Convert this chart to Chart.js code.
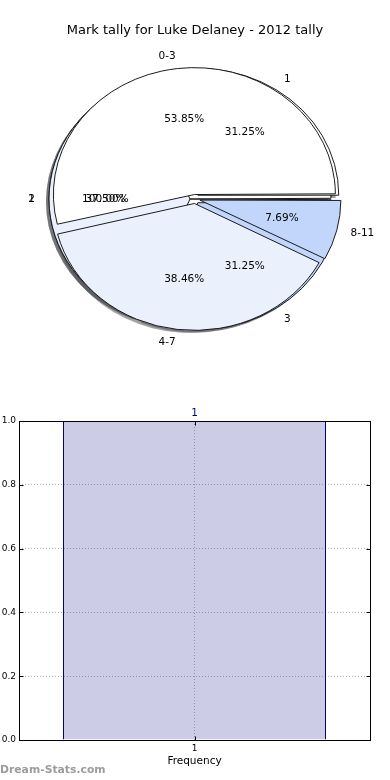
<!DOCTYPE html>
<html>
<head>
<meta charset="utf-8">
<script src="https://cdn.jsdelivr.net/npm/chart.js@4/dist/chart.umd.min.js"></script>
<style>
  html, body { margin: 0; padding: 0; background: #fff; }
  #wrap { position: relative; width: 390px; height: 780px; overflow: hidden; }
  canvas { position: absolute; left: 0; }
  #pie { top: 0; }
  #bar { top: 390px; }
  #wm { position: absolute; left: 0; top: 763px; font: bold 10.8px "DejaVu Sans", sans-serif; color: #9c9c9c; }
</style>
</head>
<body>
<div id="wrap">
  <canvas id="pie" width="390" height="390"></canvas>
  <canvas id="bar" width="390" height="390"></canvas>
  <div id="wm">Dream-Stats.com</div>
</div>
<script>
// ---------- data ----------
const chartTitle = 'Mark tally for Luke Delaney - 2012 tally';
const rangeLabels = ['0-3', '4-7', '8-11'];
const rangeCounts = [7, 5, 1];
const markLabels = ['1', '2', '3'];
const markCounts = [5, 6, 5];
const freqPieLabels = ['1'];
const freqPieCounts = [1];
const freqCategories = ['1'];
const freqValues = [1];
const yTickValues = [0, 0.2, 0.4, 0.6, 0.8, 1.0];
const xAxisTitle = 'Frequency';

// ---------- styles ----------
const FONT = '"DejaVu Sans", sans-serif';
Chart.defaults.font.family = FONT;
const sliceColors = ['#ffffff', '#eaf0fc', '#c2d6fc'];
const CX = 195, CY = 199, R = 141, K = 0.9, EXP = 5;

function rev(a) { return a.slice().reverse(); }

const pieLabelSets = [rangeLabels, markLabels, freqPieLabels];
const pieCountSets = [rangeCounts, markCounts, freqPieCounts];

const pieDatasets = pieCountSets.map((counts, di) => ({
  data: rev(counts),
  labelsList: rev(pieLabelSets[di]),
  backgroundColor: rev(sliceColors.slice(0, counts.length)),
  borderColor: '#111',
  borderWidth: 1,
  offset: EXP * 4,
  hoverOffset: 0,
  clip: false
}));

const pieGeom = {
  id: 'pieGeom',
  afterDatasetsUpdate(chart) {
    chart.getSortedVisibleDatasetMetas().forEach(meta => {
      meta.data.forEach(el => {
        const fix = 1 - Math.sin(Math.min(Math.PI, el.circumference || 0));
        el.x = CX; el.y = CY;
        el.innerRadius = 0;
        el.outerRadius = R - EXP * fix;
      });
    });
  },
  beforeDatasetsDraw(chart) {
    const ctx = chart.ctx;
    ctx.save();
    ctx.translate(CX, CY); ctx.scale(1, K); ctx.translate(-CX, -CY);
    // shadows (drawn under every wedge)
    chart.getSortedVisibleDatasetMetas().forEach(meta => {
      meta.data.forEach(el => {
        const mid = (el.startAngle + el.endAngle) / 2;
        const ox = CX + Math.cos(mid) * EXP - 3;
        const oy = CY + Math.sin(mid) * EXP + 3;
        ctx.beginPath();
        ctx.moveTo(ox, oy);
        ctx.arc(ox, oy, R, el.startAngle, el.endAngle);
        ctx.closePath();
        ctx.fillStyle = 'rgba(72,74,77,0.5)';
        ctx.fill();
      });
    });
  },
  afterDatasetsDraw(chart) {
    const ctx = chart.ctx;
    ctx.restore();
    ctx.save();
    ctx.font = '10.5px ' + FONT;
    ctx.fillStyle = '#000';
    ctx.textBaseline = 'middle';
    chart.data.datasets.forEach((ds, di) => {
      const meta = chart.getDatasetMeta(di);
      const total = ds.data.reduce((a, b) => a + b, 0);
      meta.data.forEach((el, i) => {
        const mid = (el.startAngle + el.endAngle) / 2;
        const c = Math.cos(mid), s = Math.sin(mid);
        const lr = EXP + 1.1 * R;
        ctx.textAlign = c > 0 ? 'left' : 'right';
        ctx.fillText(ds.labelsList[i], CX + c * lr, CY + K * s * lr);
        const pr = EXP + 0.6 * R;
        ctx.textAlign = 'center';
        ctx.fillText((ds.data[i] / total * 100).toFixed(2) + '%', CX + c * pr, CY + K * s * pr);
      });
    });
    ctx.restore();
  }
};

new Chart(document.getElementById('pie'), {
  type: 'pie',
  data: { labels: rev(rangeLabels), datasets: pieDatasets },
  options: {
    responsive: false,
    animation: false,
    events: [],
    rotation: 90,
    plugins: {
      legend: { display: false },
      tooltip: { enabled: false },
      title: {
        display: true,
        text: chartTitle,
        color: '#000',
        font: { family: FONT, size: 13, weight: 'normal' },
        padding: { top: 23, bottom: 10 }
      }
    }
  },
  plugins: [pieGeom]
});

// ---------- bar chart ----------
const barDeco = {
  id: 'barDeco',
  afterDatasetsDraw(chart) {
    const ctx = chart.ctx;
    ctx.save();
    ctx.font = '10.5px ' + FONT;
    ctx.fillStyle = '#000080';
    ctx.textAlign = 'center';
    ctx.textBaseline = 'middle';
    const meta = chart.getDatasetMeta(0);
    meta.data.forEach((el, i) => {
      ctx.fillText(String(chart.data.datasets[0].data[i]), el.x, el.y - 8);
    });
    ctx.restore();
  },
  afterDraw(chart) {
    const ctx = chart.ctx;
    const a = chart.chartArea;
    const L = Math.round(a.left) + 0.5, T = Math.round(a.top) + 0.5;
    const Rr = Math.round(a.right) + 0.5, B = Math.round(a.bottom) + 0.5;
    ctx.save();
    ctx.strokeStyle = '#000';
    ctx.lineWidth = 1;
    // inward ticks
    const ys = chart.scales.y, xs = chart.scales.x;
    ctx.beginPath();
    yTickValues.forEach(v => {
      const y = Math.round(ys.getPixelForValue(v)) + 0.5;
      ctx.moveTo(L, y); ctx.lineTo(L + 4, y);
      ctx.moveTo(Rr, y); ctx.lineTo(Rr - 4, y);
    });
    freqCategories.forEach((c, i) => {
      const x = Math.round(xs.getPixelForValue(i)) + 0.5;
      ctx.moveTo(x, B); ctx.lineTo(x, B - 4);
      ctx.moveTo(x, T); ctx.lineTo(x, T + 4);
    });
    ctx.stroke();
    ctx.strokeRect(L, T, Rr - L, B - T);
    ctx.restore();
  }
};

new Chart(document.getElementById('bar'), {
  type: 'bar',
  data: {
    labels: freqCategories,
    datasets: [{
      data: freqValues,
      backgroundColor: 'rgba(0,0,128,0.2)',
      borderColor: '#000080',
      borderWidth: 1,
      barPercentage: 263 / 351,
      categoryPercentage: 1
    }]
  },
  options: {
    responsive: false,
    animation: false,
    events: [],
    layout: { padding: { top: 31, right: 20, bottom: 10, left: 0 } },
    plugins: { legend: { display: false }, tooltip: { enabled: false } },
    scales: {
      x: {
        grid: { offset: false, color: '#b4b4b4', drawTicks: false, lineWidth: 1 },
        border: { display: false, dash: [1, 2] },
        ticks: { color: '#000', font: { size: 9 }, padding: 3 },
        title: { display: true, text: xAxisTitle, color: '#000', font: { size: 10.5 }, padding: { top: 4, bottom: 2 } },
        afterFit(s) { s.height = 30; }
      },
      y: {
        min: 0, max: 1,
        afterBuildTicks(s) { s.ticks = yTickValues.map(v => ({ value: v })); },
        ticks: { color: '#000', font: { size: 9 }, padding: 3, callback: v => Number(v).toFixed(1) },
        grid: { color: '#b4b4b4', drawTicks: false, lineWidth: 1 },
        border: { display: false, dash: [1, 2] },
        afterFit(s) { s.width = 19; }
      }
    }
  },
  plugins: [barDeco]
});
</script>
</body>
</html>
